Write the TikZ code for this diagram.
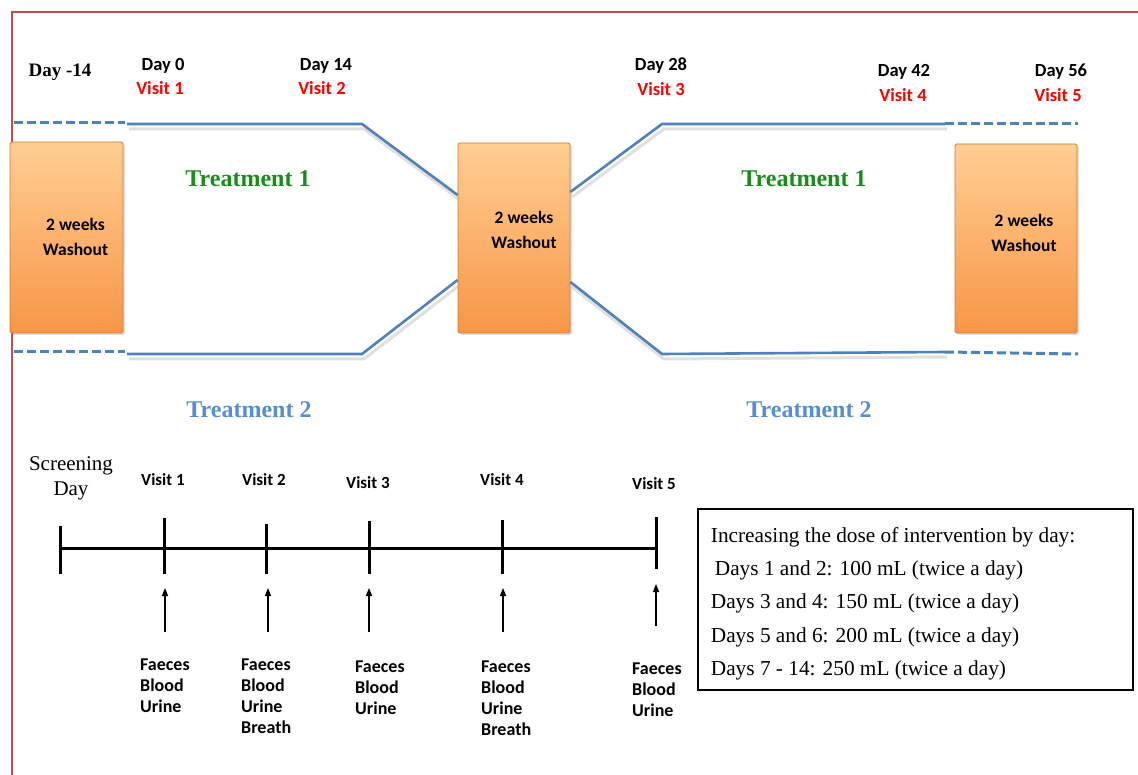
\documentclass[tikz,border=0pt]{standalone}
\usepackage{fontspec}
\setmainfont{Liberation Serif}
\newfontfamily\calb{Carlito Bold}
\usetikzlibrary{arrows.meta,shadows}
\definecolor{redframe}{RGB}{192,80,77}
\definecolor{lineblue}{RGB}{79,129,189}
\definecolor{tgreen}{RGB}{26,140,26}
\definecolor{tblue}{RGB}{86,142,212}
\definecolor{vred}{RGB}{255,0,0}
\definecolor{otop}{RGB}{255,206,146}
\definecolor{obot}{RGB}{247,150,70}
\definecolor{oedge}{RGB}{200,125,60}
\tikzset{
  washbox/.style={draw=oedge, line width=0.8pt, top color=otop, bottom color=obot,
    rounded corners=1.5pt, drop shadow={opacity=0.25, shadow xshift=2pt, shadow yshift=-2pt}},
  washtxt/.style={font=\calb\fontsize{17.5}{25}\selectfont, align=center},
  daylab/.style={font=\calb\fontsize{18.5}{20}\selectfont, inner sep=0pt},
  vislab/.style={font=\calb\fontsize{18.5}{20}\selectfont, text=vred, inner sep=0pt},
  tlvis/.style={font=\calb\fontsize{17}{18}\selectfont, inner sep=0pt},
  sample/.style={font=\calb\fontsize{18}{21}\selectfont, align=left, anchor=north west, inner sep=0pt},
  treatA/.style={font=\bfseries\fontsize{24}{28}\selectfont, text=tgreen, inner sep=0pt},
  treatB/.style={font=\bfseries\fontsize{24}{28}\selectfont, text=tblue, inner sep=0pt},
  armline/.style={draw=lineblue, line width=2.6pt},
  armdash/.style={draw=lineblue, line width=3pt, dash pattern=on 9pt off 4pt},
  armshadow/.style={draw=black!12, line width=3pt},
  tick/.style={line width=3pt},
  uparrow/.style={line width=1.4pt, -{Triangle[length=8pt,width=6pt]}},
}
\begin{document}
\begin{tikzpicture}[x=1pt,y=-1pt]
\useasboundingbox (0,0) rectangle (1138,775);
% frame
\draw[redframe, line width=2.6pt] (1138,12) -- (12,12) -- (12,775);

% arm line shadows
\begin{scope}[shift={(2,5)}]
\draw[armshadow] (127,124) -- (362,124) -- (458,195);
\draw[armshadow] (570,192) -- (662,124) -- (945,124);
\draw[armshadow] (127,354) -- (362,354) -- (458,280);
\draw[armshadow] (570,282) -- (662,354) -- (945,352);
\end{scope}

% washout boxes
\node[washbox, minimum width=113pt, minimum height=191pt] (w1) at (66.5,237.5) {};
\node[washbox, minimum width=112pt, minimum height=190pt] (w2) at (514,238) {};
\node[washbox, minimum width=122pt, minimum height=189pt] (w3) at (1016,238.5) {};
\node[washtxt] (w1t) at ([xshift=9pt,yshift=1pt]w1.center) {2 weeks\\Washout};
\node[washtxt] (w2t) at ([xshift=10pt,yshift=8pt]w2.center) {2 weeks\\Washout};
\node[washtxt] (w3t) at ([xshift=8pt,yshift=6pt]w3.center) {2 weeks\\Washout};

% arm lines
\coordinate (ta) at (14,123);
\coordinate (tb) at (125,123);
\coordinate (tc) at (127,124);
\coordinate (td) at (362,124);
\coordinate (te) at (662,124);
\coordinate (tf) at (945,124);
\coordinate (tg) at (1078,124);
\coordinate (ba) at (14,352);
\coordinate (bb) at (125,352);
\coordinate (bc) at (127,354);
\coordinate (bd) at (362,354);
\coordinate (be) at (662,354);
\coordinate (bf) at (945,352);
\coordinate (bg) at (1078,354);
\draw[armdash] (ta) -- (tb);
\draw[armline] (tc) -- (td) -- ([yshift=43pt]w2.west);
\draw[armline] ([yshift=46pt]w2.east) -- (te) -- (tf);
\draw[armdash] (tf) -- (tg);
\draw[armdash] (ba) -- (bb);
\draw[armline] (bc) -- (bd) -- ([yshift=-42pt]w2.west);
\draw[armline] ([yshift=-44pt]w2.east) -- (be) -- (bf);
\draw[armdash] (bf) -- (bg);

% top labels
\node[font=\bfseries\fontsize{19}{22}\selectfont, inner sep=0pt] (dm14) at (60,72) {Day -14};
\node[daylab] (d0) at (163,66) {Day 0};
\node[vislab] (v1) at (160,88) {Visit 1};
\node[daylab] (d14) at (326,66) {Day 14};
\node[vislab] (v2) at (322,88) {Visit 2};
\node[daylab] (d28) at (661,66) {Day 28};
\node[vislab] (v3) at (661,89) {Visit 3};
\node[daylab] (d42) at (904,72) {Day 42};
\node[vislab] (v4) at (903,95) {Visit 4};
\node[daylab] (d56) at (1061,72) {Day 56};
\node[vislab] (v5) at (1058,95) {Visit 5};

% treatments
\node[treatA] (t1a) at (248,179) {Treatment 1};
\node[treatA] (t1b) at (804,179) {Treatment 1};
\node[treatB] (t2a) at (249,410) {Treatment 2};
\node[treatB] (t2b) at (809,410) {Treatment 2};

% timeline
\node[font=\fontsize{21}{25}\selectfont, align=center, inner sep=0pt] (scr) at (71,478) {Screening\\Day};
\coordinate (l0) at (60,548);
\coordinate (l5) at (656,548);
\draw[tick] (l0) -- (l5);
\draw[tick] (60,526) -- (60,574);
\draw[tick] (164,518) -- (164,574);
\draw[tick] (266,524) -- (266,574);
\draw[tick] (369,521) -- (369,574);
\draw[tick] (502,520) -- (502,574);
\draw[tick] (656,517) -- (656,569);

\node[tlvis] (tv1) at (163,480) {Visit 1};
\node[tlvis] (tv2) at (264,480) {Visit 2};
\node[tlvis] (tv3) at (368,483) {Visit 3};
\node[tlvis] (tv4) at (502,480) {Visit 4};
\node[tlvis] (tv5) at (654,484) {Visit 5};

% arrows
\coordinate (a1s) at (165,632); \coordinate (a1e) at (165,588);
\coordinate (a2s) at (268,632); \coordinate (a2e) at (268,588);
\coordinate (a3s) at (369,632); \coordinate (a3e) at (369,588);
\coordinate (a4s) at (503,632); \coordinate (a4e) at (503,588);
\coordinate (a5s) at (656,626); \coordinate (a5e) at (656,584);
\draw[uparrow] (a1s) -- (a1e);
\draw[uparrow] (a2s) -- (a2e);
\draw[uparrow] (a3s) -- (a3e);
\draw[uparrow] (a4s) -- (a4e);
\draw[uparrow] (a5s) -- (a5e);

% samples
\node[sample] (s1) at (140,659) {Faeces\\Blood\\Urine};
\node[sample] (s2) at (241,659) {Faeces\\Blood\\Urine\\Breath};
\node[sample] (s3) at (355,661) {Faeces\\Blood\\Urine};
\node[sample] (s4) at (481,661) {Faeces\\Blood\\Urine\\Breath};
\node[sample] (s5) at (632,663) {Faeces\\Blood\\Urine};

% dose box
\node[draw, line width=2.6pt, minimum width=435pt, minimum height=181pt] (info) at (915.5,599.5) {};
\node[anchor=west, align=left, inner sep=0pt, font=\fontsize{21.3}{33.3}\selectfont] (infot) at ([xshift=14pt,yshift=-4pt]info.west)
 {Increasing the dose of intervention by day:\\
  \hspace{4pt}Days 1 and 2: 100 mL (twice a day)\\
  Days 3 and 4: 150 mL (twice a day)\\
  Days 5 and 6: 200 mL (twice a day)\\
  Days 7 - 14: 250 mL (twice a day)};
\end{tikzpicture}
\end{document}
